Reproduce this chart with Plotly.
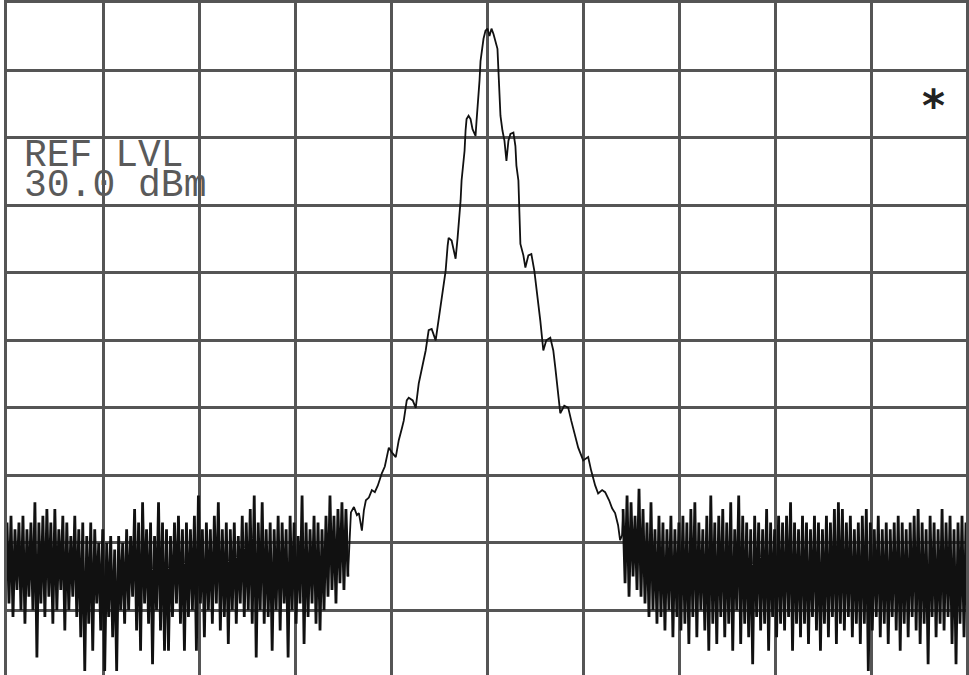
import numpy as np
import plotly.graph_objects as go

# Reference level and scale (dBm, 10 dB/div)
ref_level = 30.0
bottom_level = -69.6

# Left noise floor, trace points 0..171 (dBm)
noise_left = [
    -47,-59,-46,-61,-48,-57,-47,-60,-46,-62,
    -48,-58,-47,-60,-44,-67,-47,-59,-46,-61,
    -45,-58,-47,-62,-45,-60,-48,-57,-46,-63,
    -47,-60,-49,-58,-46,-61,-48,-64,-47,-69,
    -49,-62,-47,-66,-48,-59,-50,-63,-48,-69,
    -50,-61,-49,-64,-51,-69,-49,-60,-50,-62,
    -48,-60,-49,-58,-45,-63,-47,-66,-44,-59,
    -48,-62,-47,-68,-49,-60,-44,-63,-47,-66,
    -48,-66,-49,-61,-47,-59,-46,-62,-48,-66,
    -47,-61,-48,-60,-46,-66,-43,-59,-48,-64,
    -47,-60,-48,-62,-46,-59,-44,-63,-48,-61,
    -47,-65,-48,-60,-47,-62,-49,-59,-46,-61,
    -47,-60,-45,-62,-43,-67,-47,-60,-44,-62,
    -48,-61,-47,-66,-48,-60,-46,-63,-47,-59,
    -48,-67,-46,-60,-47,-62,-49,-59,-43,-65,
    -47,-61,-48,-59,-46,-62,-47,-63,-48,-60,
    -46,-58,-43,-57,-46,-59,-45,-56,-44,-57,-45,-55,
]

# Carrier region: trace point index and level (dBm)
signal_pts = [172.5,174,175.5,176.5,178,179,180,181.5,183,184.5,186,188,189.5,191.5,193,195,
              196.5,198,199,200.5,201.5,203.5,205,206.5,208,210,211.5,213,215,216.5,217.5,219,
              220,221,221.5,223,224,225,226,227,227.5,228,229,229.5,230,230.5,231.5,232.5,233.5,
              235,235.5,236.5,237,237.5,238.5,239,240,241,242,243,244,245,246,246.5,247,247.5,
              248.5,249.5,250.5,251.5,252.5,254,255,255.5,256.5,257,257.5,259,260,261.5,263,
              264.5,265.5,266.5,267.5,269,270.5,272.5,274,275,276,277.5,279.5,281.5,283,284.5,
              286.5,289,291.5,293,295,296.5,298.5,300,302,303.5,305,306.5,307.5,308.5]
signal_dbm = [-45.5,-44.7,-45.9,-45.6,-48.2,-45.2,-43.7,-43.3,-42.2,-42.5,-41.5,-39.7,-38.7,-35.9,-36.6,-37.3,
              -34.8,-33.1,-31.9,-28.9,-28.5,-28.9,-30.0,-26.4,-24.5,-21.5,-18.5,-18.3,-20.0,-17.1,-14.8,-11.9,
              -9.7,-6.0,-4.8,-5.2,-6.7,-7.9,-4.8,-1.5,0.7,3.7,6.6,8.1,11.1,12.8,13.3,12.8,11.3,
              10.3,12.5,15.9,18.5,21.4,23.6,24.7,25.9,26.2,25.1,26.2,25.4,24.4,23.2,19.9,15.5,13.3,
              11.1,9.6,6.6,9.6,10.6,10.8,8.8,5.9,3.7,-0.8,-5.7,-7.4,-9.2,-7.4,-7.2,
              -9.7,-11.9,-14.8,-17.1,-21.5,-20.0,-19.6,-21.5,-24.0,-26.7,-30.8,-29.7,-30.0,-31.9,-33.8,
              -35.9,-37.8,-37.3,-39.3,-41.5,-42.7,-42.2,-42.5,-43.7,-44.9,-45.6,-47.4,-49.6,-48.9]

# Right noise floor, trace points 309..484 (dBm)
noise_right = [
    -45,-56,-43,-58,-44,-55,-46,-57,-42,-58,
    -45,-59,-47,-61,-44,-60,-48,-62,-46,-61,
    -47,-63,-48,-60,-46,-64,-48,-61,-47,-63,
    -46,-62,-47,-65,-45,-61,-44,-64,-47,-60,
    -48,-63,-46,-66,-43,-62,-47,-65,-46,-61,
    -45,-64,-47,-62,-44,-66,-48,-60,-43,-65,
    -46,-62,-47,-64,-48,-68,-46,-61,-47,-63,
    -48,-62,-45,-66,-47,-61,-48,-64,-46,-62,
    -47,-63,-46,-61,-44,-66,-47,-62,-48,-64,
    -46,-62,-47,-65,-48,-61,-46,-63,-47,-66,
    -48,-62,-46,-64,-47,-61,-45,-65,-44,-62,
    -45,-63,-47,-61,-46,-64,-48,-62,-47,-65,
    -46,-62,-45,-69,-47,-63,-48,-61,-46,-64,
    -48,-62,-47,-65,-48,-61,-47,-63,-46,-66,
    -47,-62,-48,-64,-47,-61,-46,-63,-45,-65,
    -47,-62,-48,-68,-46,-61,-47,-64,-48,-62,
    -45,-63,-47,-61,-46,-65,-48,-68,-47,-62,
    -46,-64,-47,-61,-48,-63,
]

pts_per_div = 48.2
n_view = 481

x_left = np.arange(len(noise_left))
x_right = np.arange(len(noise_right)) + 309
x_sig = np.concatenate([[x_left[-1]], np.array(signal_pts), [x_right[0]]])
y_sig = np.concatenate([[noise_left[-1]], np.array(signal_dbm), [noise_right[0]]])

grid_col = "#555555"
text_col = "#5a5a5a"
trace_col = "#111111"

fig = go.Figure()
fig.add_trace(go.Scatter(x=x_left, y=noise_left, mode="lines",
                         line=dict(color=trace_col, width=2.8), hoverinfo="skip"))
fig.add_trace(go.Scatter(x=x_sig, y=y_sig, mode="lines",
                         line=dict(color=trace_col, width=1.8, shape="linear"), hoverinfo="skip"))
fig.add_trace(go.Scatter(x=x_right, y=noise_right, mode="lines",
                         line=dict(color=trace_col, width=2.8), hoverinfo="skip"))

fig.update_layout(
    width=969, height=675,
    margin=dict(l=7, r=0, t=2, b=0),
    paper_bgcolor="white", plot_bgcolor="white",
    showlegend=False,
    xaxis=dict(range=[0, n_view], tick0=0, dtick=pts_per_div, showgrid=True,
               gridcolor=grid_col, gridwidth=2.5, showticklabels=False, ticks="",
               zeroline=False, showline=True, linecolor=grid_col, linewidth=2.5, mirror=True),
    yaxis=dict(range=[bottom_level, ref_level], tick0=ref_level, dtick=10, showgrid=True,
               gridcolor=grid_col, gridwidth=2.5, showticklabels=False, ticks="",
               zeroline=False, showline=True, linecolor=grid_col, linewidth=2.5, mirror=True),
    annotations=[
        dict(x=7.5, y=7.4, xref="x", yref="y", text="REF LVL", showarrow=False,
             xanchor="left", yanchor="middle",
             font=dict(family="Liberation Mono", size=38, color=text_col)),
        dict(x=7.5, y=2.9, xref="x", yref="y", text="30.0 dBm", showarrow=False,
             xanchor="left", yanchor="middle",
             font=dict(family="Liberation Mono", size=38, color=text_col)),
        dict(x=464.5, y=14.8, xref="x", yref="y", text="<b>*</b>", showarrow=False,
             xanchor="center", yanchor="middle",
             font=dict(family="DejaVu Sans", size=44, color="#222222")),
    ],
)

fig.write_html("out.html", config={"displayModeBar": False},
               post_script="document.body.style.margin='0';document.body.style.padding='0';")
